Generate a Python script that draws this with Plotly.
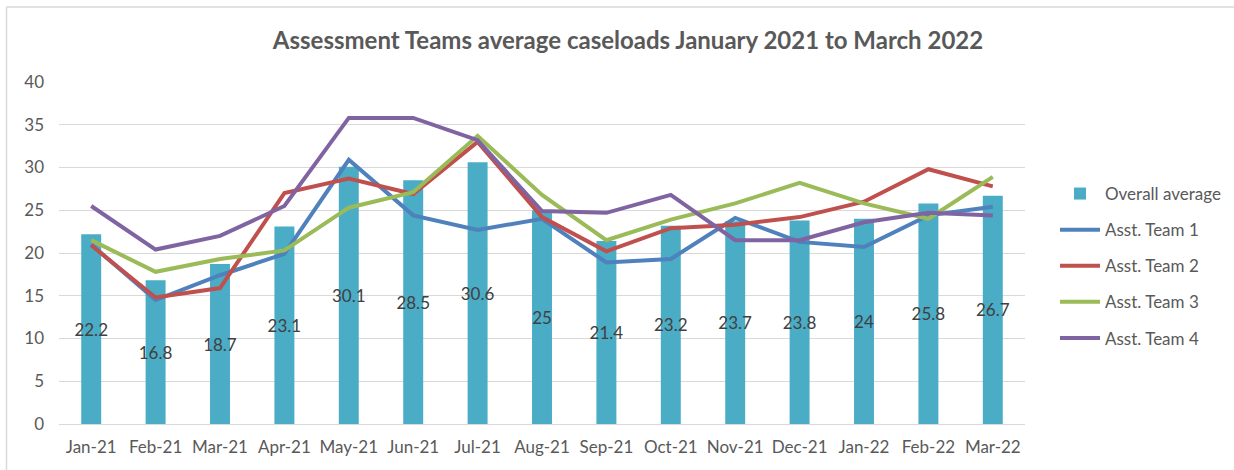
import plotly.graph_objects as go

# Monthly categories
months = ["Jan-21", "Feb-21", "Mar-21", "Apr-21", "May-21", "Jun-21", "Jul-21",
          "Aug-21", "Sep-21", "Oct-21", "Nov-21", "Dec-21", "Jan-22", "Feb-22", "Mar-22"]

# Overall average caseload (bars)
overall_average = [22.2, 16.8, 18.7, 23.1, 30.1, 28.5, 30.6, 25, 21.4, 23.2, 23.7, 23.8, 24, 25.8, 26.7]

# Individual assessment team caseloads (lines)
team_1 = [21.0, 14.5, 17.4, 19.9, 30.9, 24.4, 22.7, 24.0, 18.9, 19.3, 24.1, 21.3, 20.7, 24.4, 25.4]
team_2 = [20.9, 14.8, 15.9, 27.0, 28.7, 26.9, 33.0, 24.2, 20.2, 22.9, 23.3, 24.2, 26.0, 29.8, 27.8]
team_3 = [21.5, 17.8, 19.3, 20.3, 25.3, 27.1, 33.7, 26.8, 21.5, 23.9, 25.8, 28.2, 25.8, 24.0, 28.9]
team_4 = [25.5, 20.4, 22.0, 25.5, 35.8, 35.8, 33.2, 24.9, 24.7, 26.8, 21.5, 21.5, 23.6, 24.7, 24.4]

team_names = ["Asst. Team 1", "Asst. Team 2", "Asst. Team 3", "Asst. Team 4"]
team_values = [team_1, team_2, team_3, team_4]
team_colors = ["#4F81BD", "#C0504D", "#9BBB59", "#8064A2"]

FONT = "Lato, Carlito, 'Liberation Sans', sans-serif"
TEXT_GRAY = "#595959"

fig = go.Figure()

fig.add_trace(go.Bar(
    x=months,
    y=overall_average,
    name="Overall average",
    marker=dict(color="#4BACC6", line=dict(width=0)),
    text=[f"{v:g}" for v in overall_average],
    textposition="inside",
    insidetextanchor="middle",
    textangle=0,
    constraintext="none",
    insidetextfont=dict(family=FONT, size=17, color="#404040"),
    legendgroup="avg",
    hoverinfo="x+y",
))

for name, vals, color in zip(team_names, team_values, team_colors):
    fig.add_trace(go.Scatter(
        x=months,
        y=vals,
        name=name,
        mode="lines",
        line=dict(color=color, width=4),
        legendgroup=name,
    ))

# Plot-area geometry in pixels (for the frame lines drawn in paper coordinates)
W, H = 1234, 470
L, R, T, B = 59, 209, 82, 46
pw, ph = W - L - R, H - T - B


def px_x(p):
    return (p - L) / pw


def px_y(p):
    return (H - B - p) / ph


frame_color = "#D9D9D9"
shapes = [
    dict(type="line", xref="paper", yref="paper",
         x0=px_x(6.5), x1=px_x(6.5), y0=px_y(7), y1=px_y(470),
         line=dict(color=frame_color, width=1.5)),
    dict(type="line", xref="paper", yref="paper",
         x0=px_x(6), x1=px_x(1234), y0=px_y(7), y1=px_y(7),
         line=dict(color=frame_color, width=1.5)),
]

fig.update_layout(
    width=W,
    height=H,
    margin=dict(l=L, r=R, t=T, b=B, pad=0, autoexpand=False),
    paper_bgcolor="white",
    plot_bgcolor="white",
    font=dict(family=FONT, color=TEXT_GRAY, size=17),
    title=dict(
        text="<b>Assessment Teams average caseloads January 2021 to March 2022</b>",
        font=dict(family=FONT, size=24, color=TEXT_GRAY),
        x=px_x(628), xref="paper", xanchor="center",
        y=1 - 41 / H, yref="container", yanchor="middle",
    ),
    bargap=0.69,
    showlegend=True,
    legend=dict(
        x=px_x(1055), xanchor="left",
        y=px_y(176), yanchor="top",
        font=dict(family=FONT, size=17, color=TEXT_GRAY),
        tracegroupgap=11,
        bgcolor="rgba(0,0,0,0)",
        itemwidth=40,
    ),
    shapes=shapes,
)

fig.update_xaxes(
    type="category",
    showgrid=False,
    showline=True,
    linecolor="#D9D9D9",
    linewidth=1,
    ticks="",
    tickfont=dict(family=FONT, size=17, color=TEXT_GRAY),
    ticklabelstandoff=8,
)

fig.update_yaxes(
    range=[0, 40],
    dtick=5,
    showgrid=True,
    gridcolor="#D9D9D9",
    gridwidth=1,
    zeroline=False,
    showline=False,
    ticks="",
    tickfont=dict(family=FONT, size=17, color=TEXT_GRAY),
    ticklabelstandoff=14,
)

fig.write_html("out.html")
